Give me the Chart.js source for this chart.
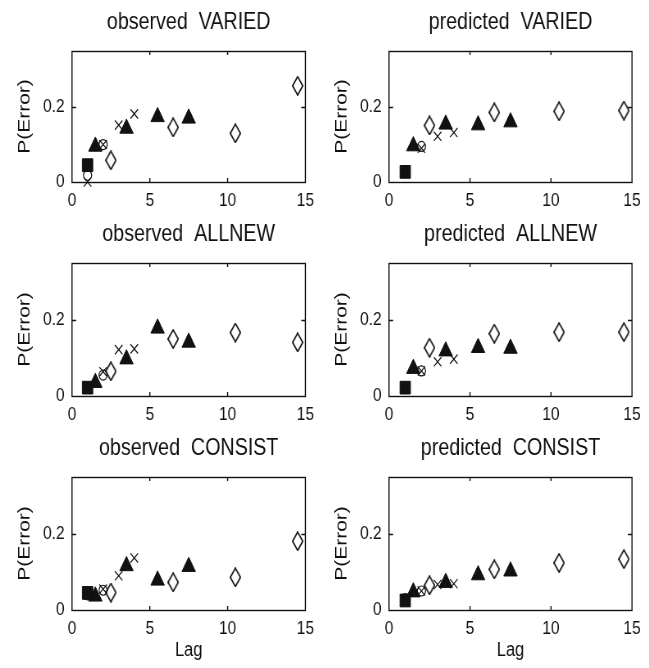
<!DOCTYPE html>
<html>
<head>
<meta charset="utf-8">
<script src="https://cdn.jsdelivr.net/npm/chart.js@4.4.0/dist/chart.umd.min.js"></script>
<style>
  body { margin: 0; background: #fff; width: 649px; height: 668px; position: relative; overflow: hidden; }
  .wrap { position: absolute; transform-origin: 0 0; }
</style>
</head>
<body>
<div class="wrap" style="left:0;top:0"><canvas id="c0"></canvas></div>
<div class="wrap" style="left:317px;top:0"><canvas id="c1"></canvas></div>
<div class="wrap" style="left:0;top:212px"><canvas id="c2"></canvas></div>
<div class="wrap" style="left:317px;top:212px"><canvas id="c3"></canvas></div>
<div class="wrap" style="left:0;top:426px"><canvas id="c4"></canvas></div>
<div class="wrap" style="left:317px;top:426px"><canvas id="c5"></canvas></div>
<script>
// panel order: obs VARIED, pred VARIED, obs ALLNEW, pred ALLNEW, obs CONSIST, pred CONSIST
const panelTitles = ['observed  VARIED', 'predicted  VARIED', 'observed  ALLNEW',
  'predicted  ALLNEW', 'observed  CONSIST', 'predicted  CONSIST'];

const xTicks = [0, 5, 10, 15];
const yTicks = [0, 0.2];

// lags for each marker type
const squareLags = [1];
const circleLags = [1, 2];
const crossLags = [1, 2, 3, 4];
const triangleLags = [1.5, 3.5, 5.5, 7.5];
const diamondLags = [2.5, 6.5, 10.5, 14.5];

// P(Error), one row per panel
const squareVals = [[0.045], [0.027], [0.022], [0.022], [0.045], [0.025]];
const circleVals = [[0.018, 0.10], [0.03, 0.095], [0.02, 0.055], [0.022, 0.066], [0.04, 0.052], [0.03, 0.05]];
const crossVals = [
  [0.0, 0.10, 0.152, 0.182],
  [0.03, 0.09, 0.122, 0.132],
  [0.02, 0.064, 0.122, 0.124],
  [0.022, 0.066, 0.09, 0.097],
  [0.04, 0.055, 0.09, 0.137],
  [0.03, 0.05, 0.067, 0.069]
];
const triangleVals = [
  [0.095, 0.143, 0.174, 0.17],
  [0.096, 0.154, 0.152, 0.16],
  [0.035, 0.097, 0.178, 0.141],
  [0.072, 0.118, 0.127, 0.125],
  [0.036, 0.116, 0.078, 0.114],
  [0.047, 0.072, 0.092, 0.102]
];
const diamondVals = [
  [0.058, 0.146, 0.13, 0.257],
  [0.151, 0.186, 0.189, 0.191],
  [0.065, 0.15, 0.167, 0.141],
  [0.127, 0.164, 0.168, 0.168],
  [0.046, 0.073, 0.086, 0.181],
  [0.065, 0.107, 0.124, 0.134]
];

const FONT = "'Liberation Sans', Arial, sans-serif";
const INK = '#111';
const S = 0.82; // the figure is squeezed horizontally

// tall open diamond like matlab's 'd' marker
function diamondImg() {
  const c = document.createElement('canvas');
  c.width = 14; c.height = 20;
  const g = c.getContext('2d');
  g.strokeStyle = '#000'; g.lineWidth = 1.5;
  g.beginPath();
  g.moveTo(7, 0.8); g.lineTo(13.2, 10); g.lineTo(7, 19.2); g.lineTo(0.8, 10); g.closePath();
  g.stroke();
  return c;
}
const diamond = diamondImg();

const pts = (lags, vals) => lags.map((x, i) => ({ x: x, y: vals[i] }));

// axes box with inward ticks
const boxPlugin = {
  id: 'axbox',
  afterDraw(chart) {
    const c = chart.ctx, a = chart.chartArea, sx = chart.scales.x, sy = chart.scales.y;
    c.save();
    c.strokeStyle = INK;
    c.lineWidth = 1.4;
    c.strokeRect(a.left, a.top + 0.5, a.right - a.left, a.bottom - a.top);
    c.beginPath();
    xTicks.slice(1, -1).forEach(v => {
      const px = sx.getPixelForValue(v);
      c.moveTo(px, a.bottom); c.lineTo(px, a.bottom - 4);
      c.moveTo(px, a.top); c.lineTo(px, a.top + 4);
    });
    yTicks.slice(1).forEach(v => {
      const py = Math.round(sy.getPixelForValue(v)) + 0.5;
      c.moveTo(a.left, py); c.lineTo(a.left + 5, py);
      c.moveTo(a.right, py); c.lineTo(a.right - 5, py);
    });
    c.stroke();
    c.restore();
  }
};

panelTitles.forEach((title, p) => {
  const bottomRow = p >= 4;
  const rightCol = p % 2 === 1;
  const cssW = rightCol ? 332 : 320;
  const cssH = bottomRow ? 242 : (p >= 2 ? 214 : 212);
  const canvas = document.getElementById('c' + p);
  canvas.width = Math.round(cssW / S);
  canvas.height = cssH;
  canvas.style.width = canvas.width + 'px';
  canvas.style.height = cssH + 'px';
  canvas.parentNode.style.transform = 'scaleX(' + S + ')';
  const areaRight = (rightCol ? 315 : 312) / S;

  new Chart(canvas.getContext('2d'), {
    type: 'scatter',
    data: {
      datasets: [
        { data: pts(squareLags, squareVals[p]), pointStyle: 'rect', pointRadius: 9,
          backgroundColor: INK, borderColor: INK, borderWidth: 1, clip: false },
        { data: pts(circleLags, circleVals[p]), pointStyle: 'circle', pointRadius: 5,
          backgroundColor: 'rgba(0,0,0,0)', borderColor: INK, borderWidth: 1.2, clip: false },
        { data: pts(crossLags, crossVals[p]), pointStyle: 'crossRot', pointRadius: 6.5,
          borderColor: INK, borderWidth: 1.2, clip: false },
        { data: pts(triangleLags, triangleVals[p]), pointStyle: 'triangle', pointRadius: 9.5,
          backgroundColor: INK, borderColor: INK, borderWidth: 1, clip: false },
        { data: pts(diamondLags, diamondVals[p]), pointStyle: diamond,
          borderWidth: 0, clip: false }
      ]
    },
    options: {
      responsive: false,
      animation: false,
      layout: { padding: { left: 0, top: 0, right: canvas.width - areaRight, bottom: 0 } },
      plugins: {
        legend: { display: false },
        tooltip: { enabled: false }
      },
      scales: {
        x: {
          type: 'linear', min: 0, max: 15,
          afterBuildTicks: s => { s.ticks = xTicks.map(v => ({ value: v })); },
          afterFit: s => { s.height = bottomRow ? 58 : 30; },
          grid: { display: false, drawTicks: false },
          border: { display: false },
          ticks: { color: INK, padding: 7, font: { family: FONT, size: 19 } },
          title: {
            display: bottomRow, text: 'Lag', color: INK,
            font: { family: FONT, size: 20 }, padding: { top: 0, bottom: 6 }
          }
        },
        // top axis only carries the panel title, centred over the plot box
        top: {
          type: 'linear', position: 'top', min: 0, max: 15,
          afterFit: s => { s.height = 51; },
          grid: { display: false, drawTicks: false },
          border: { display: false },
          ticks: { display: false },
          title: {
            display: true, text: title, color: INK,
            font: { family: FONT, size: 24 }, padding: { top: 8.4, bottom: 0 }
          }
        },
        y: {
          type: 'linear', min: 0, max: 0.35,
          afterBuildTicks: s => { s.ticks = yTicks.map(v => ({ value: v })); },
          afterFit: s => { s.width = 72 / S; },
          grid: { display: false, drawTicks: false },
          border: { display: false },
          ticks: { color: INK, padding: 9, font: { family: FONT, size: 19 },
            callback: v => String(v) },
          title: {
            display: true, text: 'P(Error)', color: INK,
            font: { family: FONT, size: 21 }, padding: { top: 17.5, bottom: 0 }
          }
        }
      }
    },
    plugins: [boxPlugin]
  });
});
</script>
</body>
</html>
